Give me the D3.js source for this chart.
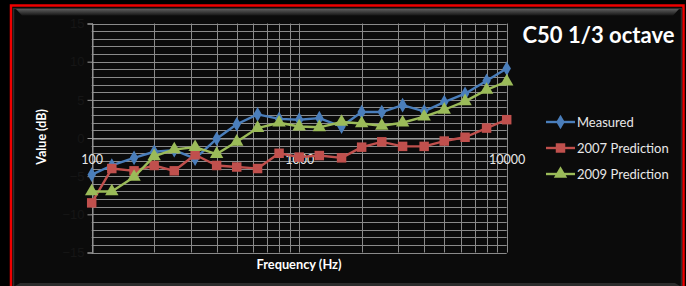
<!DOCTYPE html>
<html>
<head>
<meta charset="utf-8">
<script src="https://cdn.jsdelivr.net/npm/d3@7"></script>
<style>
  html, body { margin: 0; padding: 0; background: #000; }
  svg { display: block; font-family: Lato, "Open Sans", sans-serif; }
</style>
</head>
<body>
<svg id="chart" width="686" height="286"></svg>
<script>
// 1/3 octave band centre frequencies (Hz)
const freqs = [100, 125, 160, 200, 250, 315, 400, 500, 630, 800, 1000, 1250, 1600, 2000, 2500, 3150, 4000, 5000, 6300, 8000, 10000];
const measured = [-4.8, -3.6, -2.6, -1.8, -1.6, -2.7, -0.1, 1.8, 3.1, 2.5, 2.4, 2.6, 1.5, 3.4, 3.4, 4.3, 3.5, 4.7, 5.8, 7.5, 9.1];
const pred2007 = [-8.5, -4.0, -4.3, -3.6, -4.3, -2.2, -3.6, -3.8, -4.0, -2.0, -2.5, -2.3, -2.6, -1.2, -0.5, -1.1, -1.1, -0.4, 0.1, 1.3, 2.4];
const pred2009 = [-7.0, -7.0, -5.1, -2.4, -1.5, -1.2, -2.1, -0.5, 1.3, 2.0, 1.5, 1.4, 2.1, 1.9, 1.6, 2.0, 2.8, 3.7, 4.8, 6.3, 7.4];

const seriesNames = ["Measured", "2007 Prediction", "2009 Prediction"];
const yTicks = [-15, -10, -5, 0, 5, 10, 15];
const xTickLabels = [100, 1000, 10000];

const colors = ["#4a7ebb", "#c0504d", "#9bbb59"];
const symbols = [d3.symbolDiamond, d3.symbolSquare, d3.symbolTriangle];
const symSize = [62, 90, 78];

const svg = d3.select("#chart");

// ---- frame ----
svg.append("rect").attr("width", 686).attr("height", 286).attr("fill", "#000");
svg.append("rect")
  .attr("x", 11).attr("y", 5.5).attr("width", 672.5).attr("height", 300)
  .attr("fill", "none").attr("stroke", "#ee0000").attr("stroke-width", 2.5);
svg.append("rect")
  .attr("x", 13.5).attr("y", 8.5).attr("width", 668).attr("height", 300)
  .attr("fill", "#0b0b0b").attr("stroke", "#2e2e2e").attr("stroke-width", 1.5);

const defs = svg.append("defs");
const grad = defs.append("linearGradient").attr("id", "bevel").attr("x1", 0).attr("y1", 0).attr("x2", 0).attr("y2", 1);
grad.append("stop").attr("offset", "0%").attr("stop-color", "#5c5c5c");
grad.append("stop").attr("offset", "100%").attr("stop-color", "#161616");
svg.append("path")
  .attr("d", "M16,9 L679,9 L673,15.5 L22,15.5 Z")
  .attr("fill", "url(#bevel)");
svg.append("path")
  .attr("d", "M20,283 L675,283 L680,286 L15,286 Z")
  .attr("fill", "#2c2c2c");

// ---- scales ----
const x = d3.scaleLog().domain([100, 10000]).range([91.7, 506.7]);
const y = d3.scaleLinear().domain([-15, 15]).range([252.5, 23.5]);

const g = svg.append("g");

// grid
const hLines = d3.range(-15, 16);
g.selectAll(".hgrid").data(hLines).enter().append("line")
  .attr("x1", x(100)).attr("x2", x(10000))
  .attr("y1", d => Math.round(y(d)) + 0.5).attr("y2", d => Math.round(y(d)) + 0.5)
  .attr("stroke", "#8a8a8a").attr("stroke-width", 1);

const vLines = [];
[100, 1000].forEach(dec => { for (let k = 1; k < 10; k++) vLines.push(dec * k); });
vLines.push(10000);
g.selectAll(".vgrid").data(vLines).enter().append("line")
  .attr("x1", d => Math.round(x(d)) + 0.5).attr("x2", d => Math.round(x(d)) + 0.5)
  .attr("y1", y(15)).attr("y2", y(-15))
  .attr("stroke", "#8a8a8a").attr("stroke-width", 1);

// y axis (labels nearly invisible on the black)
const yAxis = g.append("g")
  .attr("transform", `translate(${Math.round(x(100)) + 0.5},0)`)
  .call(d3.axisLeft(y).tickValues(yTicks).tickSize(5).tickPadding(3).tickFormat(d3.format("d")));
yAxis.select(".domain").attr("stroke", "#999");
yAxis.selectAll(".tick line").attr("stroke", "#999");
yAxis.selectAll("text").attr("fill", "#161616").attr("font-size", 13);

// x axis through 0 dB
const xAxis = g.append("g")
  .attr("transform", `translate(0,${Math.round(y(0)) + 0.5})`)
  .call(d3.axisBottom(x).tickValues(xTickLabels).tickSize(0).tickPadding(17).tickFormat(d3.format("d")));
xAxis.select(".domain").attr("stroke", "#aaa");
xAxis.selectAll("text").attr("fill", "#e8e8e8").attr("font-size", 12.5).attr("font-family", "Lato, sans-serif");

// ---- series ----
const allSeries = [measured, pred2007, pred2009];
const line = d3.line().x(d => x(d[0])).y(d => y(d[1]));

allSeries.forEach((vals, i) => {
  const pts = freqs.map((f, j) => [f, vals[j]]);
  g.append("path")
    .datum(pts)
    .attr("fill", "none")
    .attr("stroke", colors[i])
    .attr("stroke-width", 2.4)
    .attr("stroke-linejoin", "round")
    .attr("d", line);
  g.selectAll(".m" + i).data(pts).enter().append("path")
    .attr("transform", d => `translate(${x(d[0])},${y(d[1])})`)
    .attr("d", d3.symbol().type(symbols[i]).size(symSize[i]))
    .attr("fill", colors[i]);
});

// ---- titles ----
svg.append("text")
  .attr("x", 598.5).attr("y", 43)
  .attr("text-anchor", "middle")
  .attr("font-size", 22).attr("font-weight", "bold")
  .attr("fill", "#fff")
  .text("C50 1/3 octave");

svg.append("text")
  .attr("x", 299).attr("y", 269)
  .attr("text-anchor", "middle")
  .attr("font-size", 12.8).attr("font-weight", "bold")
  .attr("fill", "#fff")
  .text("Frequency (Hz)");

svg.append("text")
  .attr("transform", "translate(46,137) rotate(-90)")
  .attr("text-anchor", "middle")
  .attr("font-size", 12.5).attr("font-weight", "bold")
  .attr("fill", "#fff")
  .text("Value (dB)");

// ---- legend ----
const legend = svg.append("g");
const legendY = [122, 148, 174];
seriesNames.forEach((name, i) => {
  const row = legend.append("g").attr("transform", `translate(0,${legendY[i]})`);
  row.append("line").attr("x1", 546).attr("x2", 575).attr("stroke", colors[i]).attr("stroke-width", 2.4);
  row.append("path")
    .attr("transform", "translate(560.5,0)")
    .attr("d", d3.symbol().type(symbols[i]).size(symSize[i]))
    .attr("fill", colors[i]);
  row.append("text")
    .attr("x", 577).attr("y", 4.5)
    .attr("font-size", 13)
    .attr("fill", "#e8e8e8")
    .text(name);
});
</script>
</body>
</html>
